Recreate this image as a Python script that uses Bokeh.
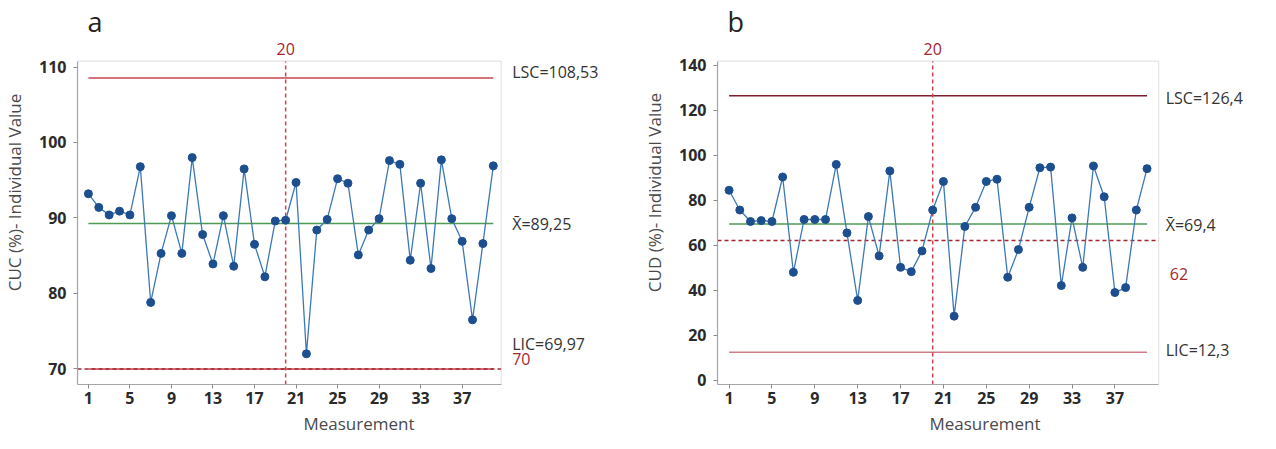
from bokeh.plotting import figure
from bokeh.models import Label, FixedTicker, Range1d, BoxAnnotation
from bokeh.layouts import row
from bokeh.embed import file_html
from bokeh.resources import INLINE

# ---------------- data ----------------
measurement = list(range(1, 41))

cuc = [93.2, 91.4, 90.4, 90.9, 90.4, 96.8, 78.8, 85.3, 90.3, 85.3,
       98.0, 87.8, 83.9, 90.3, 83.6, 96.5, 86.5, 82.2, 89.6, 89.7,
       94.7, 72.0, 88.4, 89.8, 95.2, 94.6, 85.1, 88.4, 89.9, 97.6,
       97.1, 84.4, 94.6, 83.3, 97.7, 89.9, 86.9, 76.5, 86.6, 96.9]

cud = [84.4, 75.6, 70.5, 70.9, 70.5, 90.3, 47.9, 71.4, 71.4, 71.4,
       95.9, 65.4, 35.4, 72.7, 55.2, 93.0, 50.1, 48.2, 57.4, 75.6,
       88.3, 28.4, 68.3, 76.8, 88.3, 89.3, 45.7, 58.0, 76.8, 94.4,
       94.7, 42.0, 72.1, 50.1, 95.2, 81.5, 38.9, 41.1, 75.6, 94.0]

# control limits (upper, mean, lower) and reference lines
cuc_limits = {"LSC": 108.53, "mean": 89.25, "LIC": 69.97}
cud_limits = {"LSC": 126.4, "mean": 69.4, "LIC": 12.3}
cuc_ref = 70
cud_ref = 62
split_at = 20

cuc_yticks = [70, 80, 90, 100, 110]
cud_yticks = [0, 20, 40, 60, 80, 100, 120, 140]
x_ticks = [1, 5, 9, 13, 17, 21, 25, 29, 33, 37]

cuc_labels = {"LSC": "LSC=108,53", "mean": "X\u0304=89,25", "LIC": "LIC=69,97", "ref": "70"}
cud_labels = {"LSC": "LSC=126,4", "mean": "X\u0304=69,4", "LIC": "LIC=12,3", "ref": "62"}

FONT = "Open Sans"
LINE_BLUE = "#3b78b8"
DOT_BLUE = "#1d4f8f"
GREEN = "#4e9a55"
DARK_RED = "#a3262f"
SPLIT_RED = "#d0424f"
FRAME_GREY = "#a6a6a6"


def panel(letter, ylab, values, limits, ref, labels, yticks, box,
          width, height, border_left, border_bottom, box_right_px, box_top_px,
          lsc_color, lic_color, offs, lbl_dx, ref_dx, letter_up):
    # visible plot box = (x0, x1, y0, y1); the frame is extended to the right and
    # to the top so that the annotations outside the box stay visible
    x0, x1, y0, y1 = box
    frame_w = width - border_left
    frame_h = height - border_bottom
    sx = box_right_px / (x1 - x0)
    sy = (frame_h - box_top_px) / (y1 - y0)
    x_end = x0 + frame_w / sx
    y_end = y0 + frame_h / sy

    p = figure(width=width, height=height, output_backend="svg",
               toolbar_location=None, x_range=Range1d(x0, x_end), y_range=Range1d(y0, y_end),
               min_border_left=border_left, min_border_right=0,
               min_border_top=0, min_border_bottom=border_bottom)
    p.grid.visible = False
    p.outline_line_color = None
    p.background_fill_color = "white"
    p.border_fill_color = "white"

    for ax in (p.xaxis[0], p.yaxis[0]):
        ax.axis_line_color = FRAME_GREY
        ax.axis_line_width = 1.2
        ax.major_tick_line_color = "#8a8a8a"
        ax.major_tick_out = 4
        ax.major_tick_in = 0
        ax.minor_tick_line_color = None
        ax.major_label_text_font = FONT
        ax.major_label_text_font_size = "16px"
        ax.major_label_text_font_style = "bold"
        ax.major_label_text_color = "#2a2a2a"
        ax.axis_label_text_font = FONT
        ax.axis_label_text_font_size = "17px"
        ax.axis_label_text_font_style = "normal"
        ax.axis_label_text_color = "#4a4a4a"
    p.xaxis.bounds = (x0, x1)
    p.yaxis.bounds = (y0, y1)
    p.xaxis.ticker = FixedTicker(ticks=x_ticks)
    p.yaxis.ticker = FixedTicker(ticks=yticks)
    p.xaxis.axis_label = "Measurement"
    p.yaxis.axis_label = ylab
    p.xaxis.major_label_standoff = 3
    p.yaxis.major_label_standoff = 7
    p.xaxis.axis_label_standoff = 5
    p.yaxis.axis_label_standoff = 10

    p.add_layout(BoxAnnotation(left=x0, right=x1, bottom=y0, top=y1,
                               fill_alpha=0, line_color=FRAME_GREY, line_width=1.2))

    m0, m1 = measurement[0], measurement[-1]
    p.segment(x0=[m0], x1=[m1], y0=[limits["LSC"]], y1=[limits["LSC"]],
              line_color=lsc_color, line_width=1.5)
    p.segment(x0=[m0], x1=[m1], y0=[limits["mean"]], y1=[limits["mean"]],
              line_color=GREEN, line_width=1.5)
    p.segment(x0=[m0], x1=[m1], y0=[limits["LIC"]], y1=[limits["LIC"]],
              line_color=lic_color, line_width=1.5)

    # dashed reference lines across the whole box
    p.segment(x0=[x0], x1=[x1], y0=[ref], y1=[ref], line_color=DARK_RED,
              line_dash="4 3", line_width=1.5)
    p.segment(x0=[split_at], x1=[split_at], y0=[y0], y1=[y1], line_color=SPLIT_RED,
              line_dash="4 3", line_width=1.5)

    p.line(measurement, values, line_color=LINE_BLUE, line_width=1.3)
    p.scatter(measurement, values, marker="circle", size=8,
              fill_color=DOT_BLUE, line_color=DOT_BLUE)

    def lab(text, y, dy, dx, color="#333333"):
        p.add_layout(Label(x=x1, y=y, x_offset=dx, y_offset=dy, text=text,
                           text_font=FONT, text_font_size="16px", text_color=color,
                           text_baseline="middle", text_align="left"))

    lab(labels["LSC"], limits["LSC"], offs[0], lbl_dx)
    lab(labels["mean"], limits["mean"], offs[1], lbl_dx)
    lab(labels["LIC"], limits["LIC"], offs[2], lbl_dx)
    lab(labels["ref"], ref, offs[3], ref_dx, DARK_RED)

    p.add_layout(Label(x=split_at, y=y1, y_offset=12, text=str(split_at),
                       text_font=FONT, text_font_size="16px", text_color=DARK_RED,
                       text_baseline="middle", text_align="center"))
    p.add_layout(Label(x=x0, y=y1, x_offset=10, y_offset=letter_up,
                       text=letter, text_font=FONT, text_font_size="27px",
                       text_color="#222222", text_baseline="middle", text_align="left"))
    return p


H = 448
BB = 64
pa = panel("a", "CUC (%)- Individual Value", cuc, cuc_limits, cuc_ref, cuc_labels,
           cuc_yticks, (-0.05, 40.76, 67.93, 110.77),
           640, H, 69, BB, 429.7, 60.7, "#c8434f", "#c8434f",
           (6, 0, 25, 10), 11, 11, 40)
pb = panel("b", "CUD (%)- Individual Value", cud, cud_limits, cud_ref, cud_labels,
           cud_yticks, (-0.08, 41.09, -2.0, 141.8),
           612, H, 70, BB, 447.0, 60.7, "#7d1f2c", "#cf7c86",
           (-2, -1, 2, -33), 7, 11, 40)

layout = row(pa, pb)
open("out.html", "w").write(file_html(layout, INLINE))
